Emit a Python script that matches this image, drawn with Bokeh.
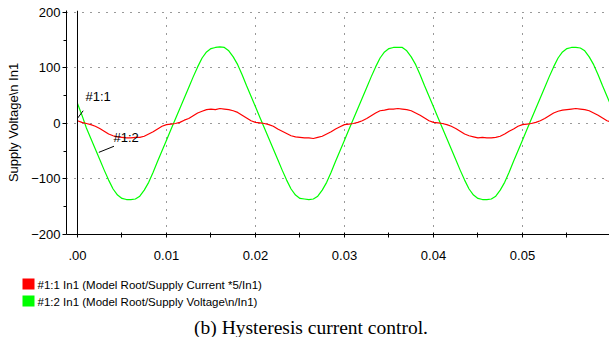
from bokeh.plotting import figure
from bokeh.layouts import column
from bokeh.models import Range1d, FixedTicker, CustomJSTickFormatter, Span
from bokeh.core.properties import value
from bokeh.embed import file_html
from bokeh.resources import INLINE

# ---------------- data ----------------
# sample times (s), every 0.5 ms
t = [round(0.0005 * i, 4) for i in range(121)]

# #1:1  Supply Current *5
current_x5 = [
    5, 2,
    0, -2, -5, -9, -14, -19, -22, -24, -25, -26, -26, -25, -25, -23, -19, -15, -10, -5, -2, -1,
    0, 2, 6, 9, 14, 19, 22, 25, 26, 25, 27, 26, 25, 23, 20, 15, 10, 5, 2, 1,
    0, -2, -5, -10, -14, -18, -22, -24, -25, -26, -26, -27, -25, -23, -19, -15, -10, -6, -2, -1,
    0, 2, 5, 9, 14, 19, 23, 24, 26, 26, 27, 26, 25, 23, 19, 15, 10, 5, 2, 1,
    0, -2, -5, -9, -14, -19, -22, -24, -26, -25, -26, -26, -25, -23, -19, -14, -10, -5, -2, -1,
    0, 2, 5, 9, 14, 19, 22, 24, 25, 26, 27, 26, 25, 23, 19, 15, 10, 5, 2,
]

# #1:2  Supply Voltage
voltage = [
    36, 15,
    -8, -27, -46, -65, -84, -102, -118, -129, -135, -137, -137, -136, -131, -120, -106, -88, -68, -49, -30, -11,
    8, 27, 46, 65, 84, 102, 118, 129, 135, 137, 138, 137, 131, 120, 106, 88, 68, 49, 30, 11,
    -8, -27, -46, -65, -84, -102, -118, -129, -135, -136, -137, -136, -131, -120, -106, -88, -68, -49, -30, -11,
    8, 27, 46, 65, 84, 102, 118, 129, 135, 137, 137, 137, 131, 120, 106, 88, 68, 49, 30, 11,
    -8, -27, -46, -65, -84, -102, -118, -129, -135, -137, -137, -136, -131, -120, -106, -88, -68, -49, -30, -11,
    8, 27, 46, 65, 84, 102, 118, 129, 135, 137, 137, 136, 131, 120, 106, 88, 68, 49, 30,
]

x_major = [0.0, 0.01, 0.02, 0.03, 0.04, 0.05]
x_minor = [0.005, 0.015, 0.025, 0.035, 0.045, 0.055]
x_labels = [".00", "0.01", "0.02", "0.03", "0.04", "0.05"]
y_major = [-200, -100, 0, 100, 200]
y_minor = [-150, -50, 50, 150]

# trace markers with leader lines
ann_text = ["#1:1", "#1:2"]
ann_x0 = [0.00003, 0.0024]
ann_y0 = [10, -52]
ann_x1 = [0.00064, 0.0041]
ann_y1 = [23, -41]
ann_tx = [0.0009, 0.00405]
ann_ty = [49, -26]

legend_labels = ["#1:1 In1 (Model Root/Supply Current *5/In1)",
                 "#1:2 In1 (Model Root/Supply Voltage\\n/In1)"]
legend_colors = ["#ff0000", "#00ff00"]
caption = "(b) Hysteresis current control."
y_title = "Supply Voltage\\n In1"

FONT = "Liberation Sans"

# ---------------- main chart ----------------
p = figure(width=609, height=266, output_backend="svg", toolbar_location=None,
           x_range=Range1d(-0.001236, 0.05978), y_range=Range1d(-200, 203.6),
           min_border_left=66, min_border_right=0, min_border_top=10, min_border_bottom=32,
           background_fill_color="white", border_fill_color="white")
p.outline_line_color = None

p.xaxis.ticker = FixedTicker(ticks=x_major, minor_ticks=x_minor)
p.xaxis.formatter = CustomJSTickFormatter(
    args=dict(xt=x_major, xl=x_labels),
    code="const i = xt.findIndex(v => Math.abs(v - tick) < 1e-9); return i >= 0 ? xl[i] : '';")
p.yaxis.ticker = FixedTicker(ticks=y_major, minor_ticks=y_minor)

for ax in (p.xaxis[0], p.yaxis[0]):
    ax.axis_line_color = "black"
    ax.major_tick_line_color = "black"
    ax.minor_tick_line_color = "black"
    ax.major_label_text_font = FONT
    ax.major_label_text_font_size = "13px"
    ax.major_label_text_color = "black"

p.xaxis.major_tick_in = 2
p.xaxis.major_tick_out = 3
p.xaxis.minor_tick_in = 2
p.xaxis.minor_tick_out = 3
p.xaxis.major_label_standoff = 13

p.yaxis.major_tick_in = 0
p.yaxis.major_tick_out = 4
p.yaxis.minor_tick_in = 0
p.yaxis.minor_tick_out = 3
p.yaxis.major_label_standoff = 2
p.yaxis.axis_label = y_title
p.yaxis.axis_label_text_font = FONT
p.yaxis.axis_label_text_font_size = "13px"
p.yaxis.axis_label_text_font_style = "normal"
p.yaxis.axis_label_text_color = "black"
p.yaxis.axis_label_standoff = 7

for g in (p.xgrid[0], p.ygrid[0]):
    g.grid_line_color = "#333333"
    g.grid_line_dash = "1 7"
    g.grid_line_width = 1

p.add_layout(Span(location=0, dimension="height", line_color="black", line_width=1))

p.line(t, voltage, line_color="#00ff00", line_width=1.2)
p.line(t, current_x5, line_color="#ff0000", line_width=1.2)

p.segment(x0=ann_x0, y0=ann_y0, x1=ann_x1, y1=ann_y1, line_color="black", line_width=1)
p.text(x=ann_tx, y=ann_ty, text=ann_text, text_font=value(FONT), text_font_size="13px",
       text_baseline="middle", text_align="left", text_color="black")

# ---------------- legend + caption strip (page-pixel coordinates) ----------------
q = figure(width=609, height=71, output_backend="svg", toolbar_location=None,
           x_range=Range1d(0, 609), y_range=Range1d(337, 266),
           min_border=0, background_fill_color="white", border_fill_color="white")
q.axis.visible = False
q.grid.visible = False
q.outline_line_color = None

for fig in (p, q):
    try:
        fig.frame_align = False
    except Exception:
        pass

sw_left = [22, 22]
sw_right = [34, 34]
sw_top = [278, 295]
sw_bottom = [289, 306]
lab_x = [37, 37]
lab_y = [284, 301]

q.quad(left=sw_left, right=sw_right, top=sw_top, bottom=sw_bottom,
       fill_color=legend_colors, line_color=None)
q.text(x=lab_x, y=lab_y, text=legend_labels, text_font=value(FONT), text_font_size="11.5px",
       text_baseline="middle", text_align="left", text_color="black")
q.text(x=[310.5], y=[327], text=[caption], text_font=value("Liberation Serif"),
       text_font_size="19.5px", text_baseline="alphabetic", text_align="center",
       text_color="black")

layout = column(p, q, spacing=0)
open("out.html", "w").write(file_html(layout, INLINE))
